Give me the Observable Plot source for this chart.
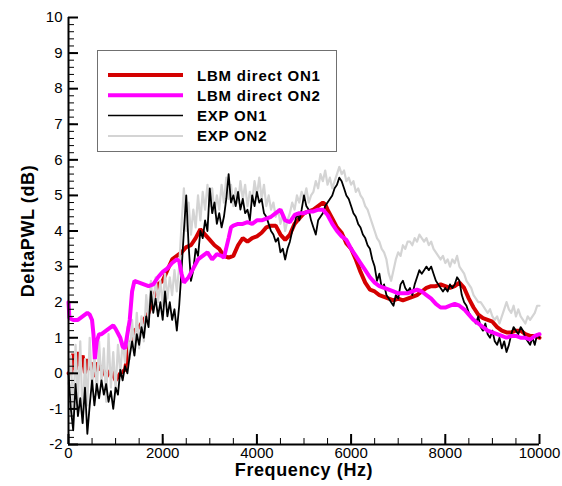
<!DOCTYPE html>
<html><head><meta charset="utf-8">
<script src="https://cdn.jsdelivr.net/npm/d3@7"></script>
<script src="https://cdn.jsdelivr.net/npm/@observablehq/plot@0.6"></script>
<style>
body{margin:0;background:#fff;}
#wrap{position:relative;width:562px;height:486px;font-family:'Liberation Sans',Arial,Helvetica,sans-serif;}
#legend{position:absolute;left:97px;top:50px;width:240px;height:102px;border:1px solid #707070;background:#fff;box-sizing:border-box;}
</style></head>
<body><div id="wrap"><div id="chart"></div><div id="legend"></div></div>
<script>
// ---- data ----
const seriesNames = ["LBM direct ON1", "LBM direct ON2", "EXP ON1", "EXP ON2"];
const seriesColors = ["#d40000", "#ff00ff", "#000000", "#d4d4d4"];
const lineWidths = [4, 4, 1.8, 2.2];
const swatchWidths = [4, 4, 1.5, 2];

const xTicks = [0, 2000, 4000, 6000, 8000, 10000];
const yTicks = [-2, -1, 0, 1, 2, 3, 4, 5, 6, 7, 8, 9, 10];

const lbm1Freq = [0,60,100,150,200,250,300,350,400,450,500,550,600,650,700,800,900,1000,1100,1200,1250,1300,1350,1400,1500,1600,1700,1800,1900,2000,2100,2200,2300,2400,2500,2600,2700,2800,2900,3000,3100,3200,3300,3400,3500,3600,3700,3800,3900,4000,4100,4200,4300,4400,4500,4600,4700,4800,4900,5000,5100,5200,5300,5400,5450,5500,5600,5700,5800,5900,6000,6100,6200,6300,6400,6500,6600,6700,6800,6900,7000,7100,7200,7300,7400,7500,7600,7700,7800,7900,8000,8100,8200,8300,8400,8500,8600,8700,8800,8900,9000,9100,9200,9300,9400,9500,9600,9700,9800,9900,10000];
const lbm1Val = [0.0,0.0,0.55,0.1,0.6,0.2,0.5,0.0,0.4,0.1,0.3,-0.1,0.3,0.1,0.2,-0.1,0.1,-0.2,0.0,0.1,0.5,0.9,0.8,1.2,1.3,1.5,1.7,2.1,2.5,2.6,2.9,3.2,3.3,3.4,3.55,3.6,3.8,4.05,3.9,3.75,3.6,3.5,3.3,3.25,3.3,3.6,3.8,3.7,3.8,3.85,3.95,4.1,4.15,4.15,3.9,3.75,3.9,4.2,4.35,4.5,4.55,4.6,4.7,4.8,4.75,4.6,4.35,4.1,3.95,3.65,3.5,3.2,2.85,2.55,2.35,2.3,2.2,2.15,2.1,2.05,2.1,2.05,2.1,2.15,2.2,2.3,2.4,2.45,2.45,2.5,2.45,2.4,2.45,2.55,2.4,2.1,1.85,1.65,1.55,1.5,1.45,1.3,1.2,1.15,1.15,1.2,1.2,1.1,1.05,1.05,1.0];

const lbm2Freq = [0,20,100,200,300,400,450,500,530,560,600,650,700,800,900,950,1000,1100,1150,1200,1250,1300,1350,1400,1500,1600,1700,1800,1900,2000,2100,2200,2300,2350,2400,2450,2550,2650,2750,2850,2950,3050,3150,3250,3300,3400,3450,3500,3600,3700,3800,3900,4000,4100,4200,4300,4400,4500,4600,4700,4800,4900,5000,5100,5200,5300,5400,5500,5600,5700,5800,5900,6000,6100,6200,6300,6400,6500,6600,6700,6800,6900,7000,7100,7200,7300,7400,7500,7600,7700,7800,7900,8000,8100,8200,8300,8400,8500,8600,8700,8800,8900,9000,9100,9200,9300,9400,9500,9600,9700,9800,9900,10000];
const lbm2Val = [2.0,1.55,1.5,1.5,1.6,1.7,1.65,1.5,1.1,0.4,0.9,1.1,1.1,1.2,1.3,1.35,1.25,1.0,0.75,0.7,1.1,1.5,2.3,2.6,2.55,2.5,2.45,2.5,2.7,2.85,2.95,3.1,3.2,3.15,2.8,2.55,2.7,2.95,3.2,3.3,3.4,3.2,3.35,3.3,3.25,3.8,4.1,4.15,4.2,4.2,4.25,4.2,4.3,4.3,4.35,4.4,4.5,4.6,4.3,4.25,4.45,4.5,4.5,4.55,4.55,4.6,4.6,4.45,4.2,4.0,3.85,3.75,3.5,3.3,3.1,2.9,2.7,2.55,2.45,2.4,2.35,2.3,2.25,2.25,2.25,2.3,2.35,2.3,2.2,2.1,1.95,1.85,1.85,1.9,1.95,1.9,1.8,1.65,1.5,1.4,1.3,1.2,1.15,1.1,1.05,1.0,1.05,1.05,1.0,1.0,0.95,1.05,1.1];

// EXP measured every 50 Hz, 0 .. 10000 Hz
const expStep = 50;
const exp1Val = [0.0,-1.0,-1.6,-0.3,-1.2,-0.7,-1.4,-0.4,-1.7,-0.9,-0.2,-0.9,-0.3,-0.7,-0.2,-0.6,-0.3,-0.8,-0.5,-1.0,-0.4,-0.6,0.1,-0.2,0.2,0.0,0.5,0.9,0.5,1.1,0.8,1.3,1.0,1.6,1.3,2.3,1.7,2.1,1.6,2.0,1.5,2.3,1.6,2.0,1.5,1.8,1.2,1.9,2.9,4.0,5.0,3.6,2.6,2.9,3.5,3.3,4.0,3.8,4.3,4.0,5.2,4.5,4.8,4.2,4.5,4.1,4.4,4.9,5.6,4.8,5.0,4.7,5.1,4.6,4.9,4.5,4.6,4.3,5.0,4.7,5.1,4.8,4.9,4.5,4.4,4.2,4.0,3.9,3.7,3.8,3.4,3.5,3.2,3.5,3.7,4.0,4.2,4.5,4.3,4.6,5.0,4.7,4.6,4.3,4.1,3.9,4.3,4.4,4.5,4.7,4.8,4.9,5.0,5.2,5.3,5.5,5.4,5.2,5.0,4.9,4.7,4.5,4.4,4.2,4.1,3.9,3.8,3.6,3.5,3.2,3.0,2.6,2.8,2.4,2.5,2.2,2.1,2.0,1.9,2.2,2.1,2.5,2.6,2.4,2.3,2.4,2.2,2.5,2.7,2.9,2.8,2.9,3.0,2.9,3.0,2.8,2.6,2.5,2.4,2.3,2.4,2.3,2.5,2.4,2.5,2.7,2.6,2.2,2.0,1.9,1.7,1.6,1.5,1.4,1.6,1.3,1.2,1.4,1.1,1.0,1.2,0.9,0.8,1.0,0.7,0.9,0.6,0.8,1.1,1.3,1.2,1.1,1.3,1.2,1.0,0.9,0.8,1.0,0.8,1.1,1.0];
const exp2Val = [-0.3,0.5,-1.3,0.8,-0.8,0.9,-1.4,0.4,-0.9,1.0,-0.5,0.6,-0.6,0.9,-0.3,0.7,-0.8,1.1,-0.4,0.6,-0.5,0.8,0.0,0.9,0.3,1.3,0.4,1.5,0.6,1.7,0.7,1.6,0.9,2.2,1.5,2.6,1.8,2.7,2.0,2.6,1.9,2.8,2.1,2.7,2.2,2.9,2.3,3.0,4.2,5.2,4.0,4.8,3.9,4.6,4.1,5.0,4.3,5.1,4.6,5.3,4.7,5.2,4.5,5.0,4.6,5.3,4.8,5.5,4.9,5.3,4.7,5.2,4.8,5.4,4.9,5.3,4.7,5.1,4.8,5.4,5.0,5.5,4.9,5.3,4.7,5.0,4.6,4.8,4.4,4.6,4.2,4.5,4.0,4.3,4.5,4.8,4.6,5.0,4.8,5.1,4.9,5.2,4.8,5.0,5.1,5.4,5.2,5.6,5.4,5.7,5.3,5.5,5.2,5.4,5.6,5.8,5.6,5.7,5.4,5.5,5.3,5.4,5.1,5.2,5.0,4.9,4.7,4.6,4.4,4.2,4.0,3.8,3.7,3.5,3.4,3.2,2.8,2.6,2.9,3.2,3.4,3.3,3.6,3.5,3.7,3.7,3.6,3.8,3.7,3.9,3.8,3.7,3.8,3.6,3.7,3.5,3.4,3.3,3.2,3.3,3.1,3.2,3.0,3.2,3.1,3.3,3.0,2.9,2.8,2.6,2.5,2.4,2.2,2.1,2.0,2.0,1.9,1.8,1.7,1.8,1.6,1.5,1.6,1.4,1.6,1.8,2.0,1.8,1.7,1.9,1.6,1.8,1.6,1.5,1.4,1.6,1.5,1.6,1.7,1.9,1.9];

// ---- tables ----
const lbm1 = lbm1Freq.map((f, i) => ({f, v: lbm1Val[i]}));
const lbm2 = lbm2Freq.map((f, i) => ({f, v: lbm2Val[i]}));
const exp1 = exp1Val.map((v, i) => ({f: i * expStep, v}));
const exp2 = exp2Val.map((v, i) => ({f: i * expStep, v}));
const xMinor = d3.range(0, 10001, 500);
const yMinor = d3.range(-2, 10.001, 0.2).map(d => +d.toFixed(1));

const FONT = "'Liberation Sans', Arial, Helvetica, sans-serif";
const blank = () => "";
const chart = Plot.plot({
  width: 562, height: 486,
  marginLeft: 68, marginRight: 23, marginTop: 17, marginBottom: 42,
  style: {fontFamily: FONT, fontSize: "15px", background: "#fff", color: "#000"},
  x: {domain: [0, 10000]},
  y: {domain: [-2, 10]},
  marks: [
    Plot.line(lbm1, {x: "f", y: "v", stroke: seriesColors[0], strokeWidth: lineWidths[0], strokeLinejoin: "miter"}),
    Plot.line(exp2, {x: "f", y: "v", stroke: seriesColors[3], strokeWidth: lineWidths[3]}),
    Plot.line(exp1, {x: "f", y: "v", stroke: seriesColors[2], strokeWidth: lineWidths[2]}),
    Plot.line(lbm2, {x: "f", y: "v", stroke: seriesColors[1], strokeWidth: lineWidths[1], strokeLinejoin: "miter"}),
    // axes
    Plot.axisX(xMinor, {tickSize: -6, tickFormat: blank, label: null, strokeWidth: 1}),
    Plot.axisX(xTicks, {tickSize: -10, tickFormat: blank, label: null, strokeWidth: 2}),
    Plot.axisX(xTicks, {tickSize: 0, tickPadding: 3, label: null, tickFormat: d => String(d), fontSize: 15}),
    Plot.axisY(yMinor, {tickSize: -6, tickFormat: blank, label: null, strokeWidth: 1}),
    Plot.axisY(yTicks, {tickSize: -10, tickFormat: blank, label: null, strokeWidth: 2}),
    Plot.axisY(yTicks, {tickSize: 0, tickPadding: 6, label: null, tickFormat: d => String(d), fontSize: 15}),
    Plot.ruleX([0], {stroke: "#000", strokeWidth: 2}),
    Plot.ruleY([-2], {stroke: "#000", strokeWidth: 2}),
    Plot.text(["Frequency (Hz)"], {frameAnchor: "bottom", dy: 31, fontSize: 18, fontWeight: "bold", textAnchor: "middle"}),
    Plot.text(["DeltaPWL (dB)"], {frameAnchor: "left", dx: -40, rotate: -90, fontSize: 18, fontWeight: "bold", textAnchor: "middle"})
  ]
});
document.getElementById("chart").appendChild(chart);
chart.querySelectorAll("text").forEach(t => {
  if (t.textContent === "Frequency (Hz)" || t.textContent === "DeltaPWL (dB)") t.setAttribute("letter-spacing", "0.6");
});

// ---- legend (inside plot area) ----
const ns = "http://www.w3.org/2000/svg";
const lg = document.createElementNS(ns, "svg");
lg.setAttribute("width", 238); lg.setAttribute("height", 100);
seriesNames.forEach((name, i) => {
  const cy = 24 + i * 20.3;
  const ln = document.createElementNS(ns, "line");
  ln.setAttribute("x1", 10); ln.setAttribute("x2", 85);
  ln.setAttribute("y1", cy); ln.setAttribute("y2", cy);
  ln.setAttribute("stroke", seriesColors[i]);
  ln.setAttribute("stroke-width", swatchWidths[i]);
  lg.appendChild(ln);
  const t = document.createElementNS(ns, "text");
  t.setAttribute("x", 99); t.setAttribute("y", cy + 5.5);
  t.setAttribute("font-family", FONT);
  t.setAttribute("font-size", 15); t.setAttribute("font-weight", "bold");
  t.setAttribute("letter-spacing", "0.8");
  t.textContent = name;
  lg.appendChild(t);
});
document.getElementById("legend").appendChild(lg);
</script></body></html>
